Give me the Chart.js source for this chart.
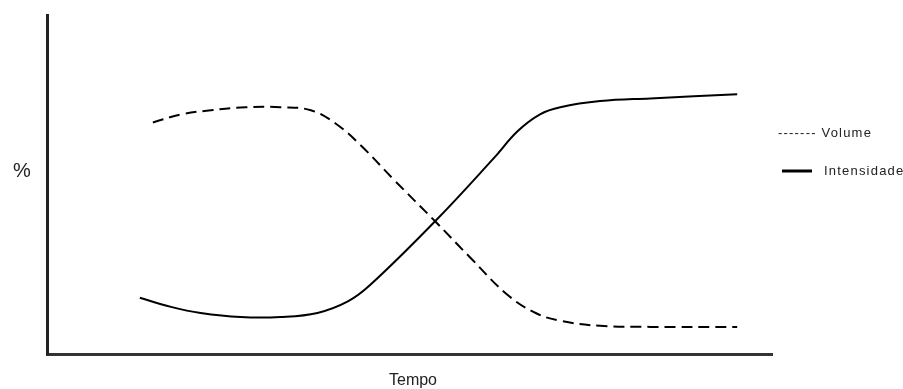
<!DOCTYPE html>
<html>
<head>
<meta charset="utf-8">
<script src="https://cdn.jsdelivr.net/npm/chart.js@4"></script>
<style>
html,body{margin:0;padding:0;background:#fff;}
#wrap{width:903px;height:389px;position:relative;}
</style>
</head>
<body>
<div id="wrap"><canvas id="c" width="903" height="389"></canvas></div>
<script>
// Data (x: time 0-100, y: % 0-100)
const volumeX = [14.6, 18.5, 22.6, 27.4, 32.2, 36.4, 39.8, 43.3, 47.8, 53.6, 58.4, 63.5, 67.4, 70.8, 76.3, 83.2, 95.2];
const volumeY = [68.3, 70.7, 71.9, 72.8, 72.8, 71.9, 68.0, 61.5, 51.5, 39.0, 28.4, 17.5, 12.1, 9.8, 8.3, 8.0, 8.0];
const intensX = [12.8, 17.1, 21.2, 26.7, 32.2, 37.3, 41.5, 44.6, 53.6, 61.6, 64.9, 68.0, 70.8, 76.3, 83.2, 95.2];
const intensY = [16.6, 13.9, 12.1, 10.9, 10.9, 12.1, 15.5, 20.4, 39.3, 57.7, 65.7, 70.7, 72.8, 74.6, 75.4, 76.6];
const seriesNames = ['Volume', 'Intensidade'];
const xTitle = 'Tempo';
const yTitle = '%';

const toPts = (xs, ys) => xs.map((x, i) => ({x: x, y: ys[i]}));

const labelsPlugin = {
  id: 'labels',
  afterDraw(chart) {
    const ctx = chart.ctx;
    ctx.save();
    ctx.fillStyle = '#222';
    ctx.textBaseline = 'middle';
    // y title
    ctx.font = '20px "Liberation Sans", Arial, sans-serif';
    ctx.textAlign = 'center';
    ctx.fillText(yTitle, 22, 171);
    // x title
    ctx.font = '16px "Liberation Sans", Arial, sans-serif';
    ctx.fillText(xTitle, 413, 381);
    // legend
    ctx.textAlign = 'left';
    ctx.font = '13px "Liberation Sans", Arial, sans-serif';
    try { ctx.letterSpacing = '1.2px'; } catch (e) {}
    ctx.fillText('------- ' + seriesNames[0], 778, 133);
    ctx.fillText(seriesNames[1], 824, 171);
    try { ctx.letterSpacing = '0px'; } catch (e) {}
    ctx.strokeStyle = '#000';
    ctx.lineWidth = 3;
    ctx.beginPath();
    ctx.moveTo(782, 171);
    ctx.lineTo(812, 171);
    ctx.stroke();
    ctx.restore();
  }
};

new Chart(document.getElementById('c'), {
  type: 'line',
  data: {
    datasets: [
      {
        label: seriesNames[0],
        data: toPts(volumeX, volumeY),
        borderColor: '#000',
        borderWidth: 2,
        borderDash: [11, 6],
        pointRadius: 0,
        fill: false,
        tension: 0.4
      },
      {
        label: seriesNames[1],
        data: toPts(intensX, intensY),
        borderColor: '#000',
        borderWidth: 2,
        pointRadius: 0,
        fill: false,
        tension: 0.4
      }
    ]
  },
  options: {
    responsive: false,
    animation: false,
    layout: {padding: {left: 47, right: 131, top: 15, bottom: 35}},
    plugins: {legend: {display: false}, tooltip: {enabled: false}},
    scales: {
      x: {
        type: 'linear', min: 0, max: 100,
        ticks: {display: false},
        grid: {display: false, drawTicks: false},
        border: {display: true, color: '#333', width: 3}
      },
      y: {
        type: 'linear', min: 0, max: 100,
        ticks: {display: false},
        grid: {display: false, drawTicks: false},
        border: {display: true, color: '#222', width: 3}
      }
    }
  },
  plugins: [labelsPlugin]
});
</script>
</body>
</html>
